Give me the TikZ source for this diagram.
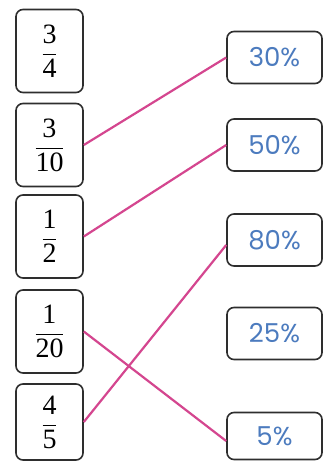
\documentclass[tikz,border=0pt]{standalone}
\usepackage{fontspec}
\setmainfont{Liberation Serif}
\newfontfamily\pctfont{Poppins}
\definecolor{pctblue}{HTML}{4C7BBE}
\definecolor{linkpink}{HTML}{D4468F}
\definecolor{boxgray}{HTML}{2E2E2E}
\newcommand\myfr[2]{$\displaystyle\frac{\mbox{#1}}{\mbox{#2}}$}
\begin{document}
\begin{tikzpicture}[x=1pt,y=1pt,
  fracbox/.style={draw=boxgray,line width=1.6pt,rounded corners=7pt,minimum width=67pt,minimum height=83pt,inner sep=0pt,font=\fontsize{28}{30}\selectfont},
  pctbox/.style={draw=boxgray,line width=1.6pt,rounded corners=7pt,minimum width=95pt,minimum height=52pt,inner sep=0pt,text=pctblue,font=\pctfont\fontsize{26}{28}\selectfont},
  link/.style={draw=linkpink,line width=2.2pt}]
\useasboundingbox (0,0) rectangle (329,-461);
\node[fracbox] (l1) at (49.5,-51) {\myfr{3}{4}};
\node[fracbox] (l2) at (49.5,-145) {\myfr{3}{10}};
\node[fracbox] (l3) at (49.5,-236.5) {\myfr{1}{2}};
\node[fracbox] (l4) at (49.5,-331.5) {\myfr{1}{20}};
\node[fracbox,minimum height=76pt] (l5) at (49.5,-422) {\myfr{4}{5}};
\node[pctbox] (r1) at (274.5,-57.5) {30\%};
\node[pctbox] (r2) at (274.5,-145) {50\%};
\node[pctbox] (r3) at (274.5,-240) {80\%};
\node[pctbox] (r4) at (274.5,-333.5) {25\%};
\node[pctbox,minimum height=47pt] (r5) at (274.5,-436) {5\%};
\draw[link] (l2.east) -- (r1.west);
\draw[link] (l3.east) -- (r2.west);
\draw[link] (l5.east) -- ([yshift=-5pt]r3.west);
\draw[link] (l4.east) -- ([yshift=-5pt]r5.west);
\end{tikzpicture}
\end{document}
